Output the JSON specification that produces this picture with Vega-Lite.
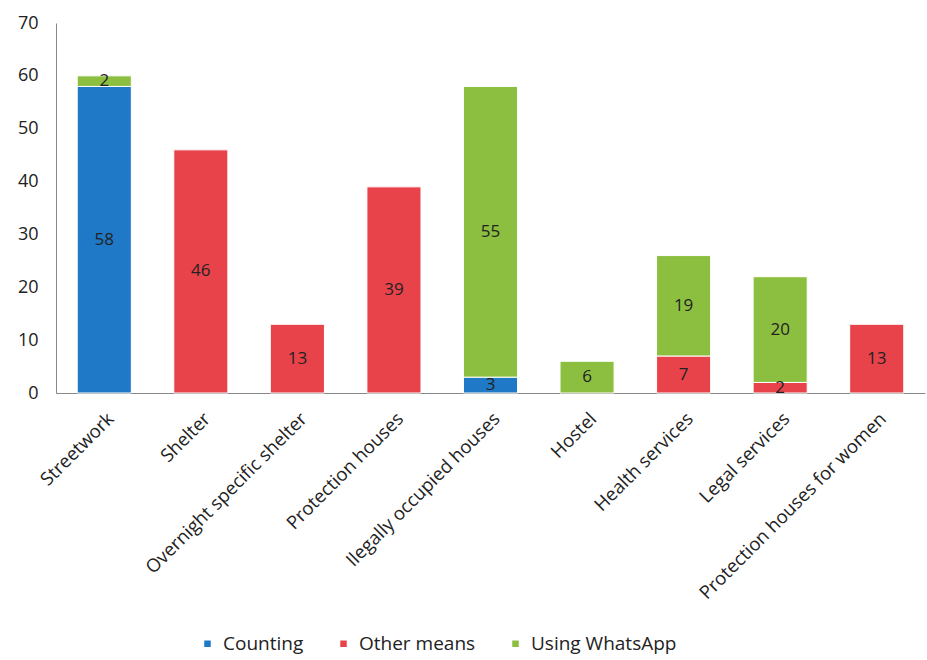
{
  "$schema": "https://vega.github.io/schema/vega-lite/v6.json",
  "width": 869,
  "height": 370,
  "autosize": {"type": "none"},
  "padding": {"left": 56, "top": 23, "right": 2, "bottom": 267},
  "background": "white",
  "config": {
    "view": {"stroke": null},
    "font": "Open Sans",
    "axis": {"labelFont": "Open Sans", "labelColor": "#222", "domainColor": "#888", "grid": false, "ticks": false, "title": null}
  },
  "data": {
    "values": [
      {"category": "Streetwork", "method": "Counting", "value": 58},
      {"category": "Streetwork", "method": "Using WhatsApp", "value": 2},
      {"category": "Shelter", "method": "Other means", "value": 46},
      {"category": "Overnight specific shelter", "method": "Other means", "value": 13},
      {"category": "Protection houses", "method": "Other means", "value": 39},
      {"category": "Ilegally occupied houses", "method": "Counting", "value": 3},
      {"category": "Ilegally occupied houses", "method": "Using WhatsApp", "value": 55},
      {"category": "Hostel", "method": "Using WhatsApp", "value": 6},
      {"category": "Health services", "method": "Other means", "value": 7},
      {"category": "Health services", "method": "Using WhatsApp", "value": 19},
      {"category": "Legal services", "method": "Other means", "value": 2},
      {"category": "Legal services", "method": "Using WhatsApp", "value": 20},
      {"category": "Protection houses for women", "method": "Other means", "value": 13}
    ]
  },
  "encoding": {
    "x": {
      "field": "category", "type": "nominal", "sort": null,
      "scale": {"paddingInner": 0.44, "paddingOuter": 0.22},
      "axis": {"labelAngle": -45, "labelFontSize": 18.5, "labelPadding": 16, "labelLimit": 0, "domainColor": "#888"}
    }
  },
  "layer": [
    {
      "mark": {"type": "bar", "stroke": "white", "strokeWidth": 1},
      "encoding": {
        "y": {
          "field": "value", "type": "quantitative", "stack": "zero",
          "scale": {"domain": [0, 70]},
          "axis": {"values": [0, 10, 20, 30, 40, 50, 60, 70], "labelFontSize": 18, "labelPadding": 18, "domainColor": "#888"}
        },
        "color": {
          "field": "method", "type": "nominal",
          "scale": {"domain": ["Counting", "Other means", "Using WhatsApp"], "range": ["#1f79c6", "#e8434b", "#8cbf40"]},
          "legend": {"orient": "none", "legendX": 142, "legendY": 611, "title": null, "direction": "horizontal", "symbolType": "square", "symbolSize": 64, "labelFontSize": 19, "labelColor": "#222", "columnPadding": 30, "labelOffset": 6}
        },
        "order": {"field": "method", "sort": "ascending"}
      }
    },
    {
      "mark": {"type": "text", "fontSize": 17, "color": "#222", "baseline": "middle"},
      "encoding": {
        "y": {"field": "value", "type": "quantitative", "stack": "zero", "bandPosition": 0.5},
        "detail": {"field": "method"},
        "order": {"field": "method", "sort": "ascending"},
        "text": {"field": "value", "type": "quantitative"}
      }
    }
  ]
}
